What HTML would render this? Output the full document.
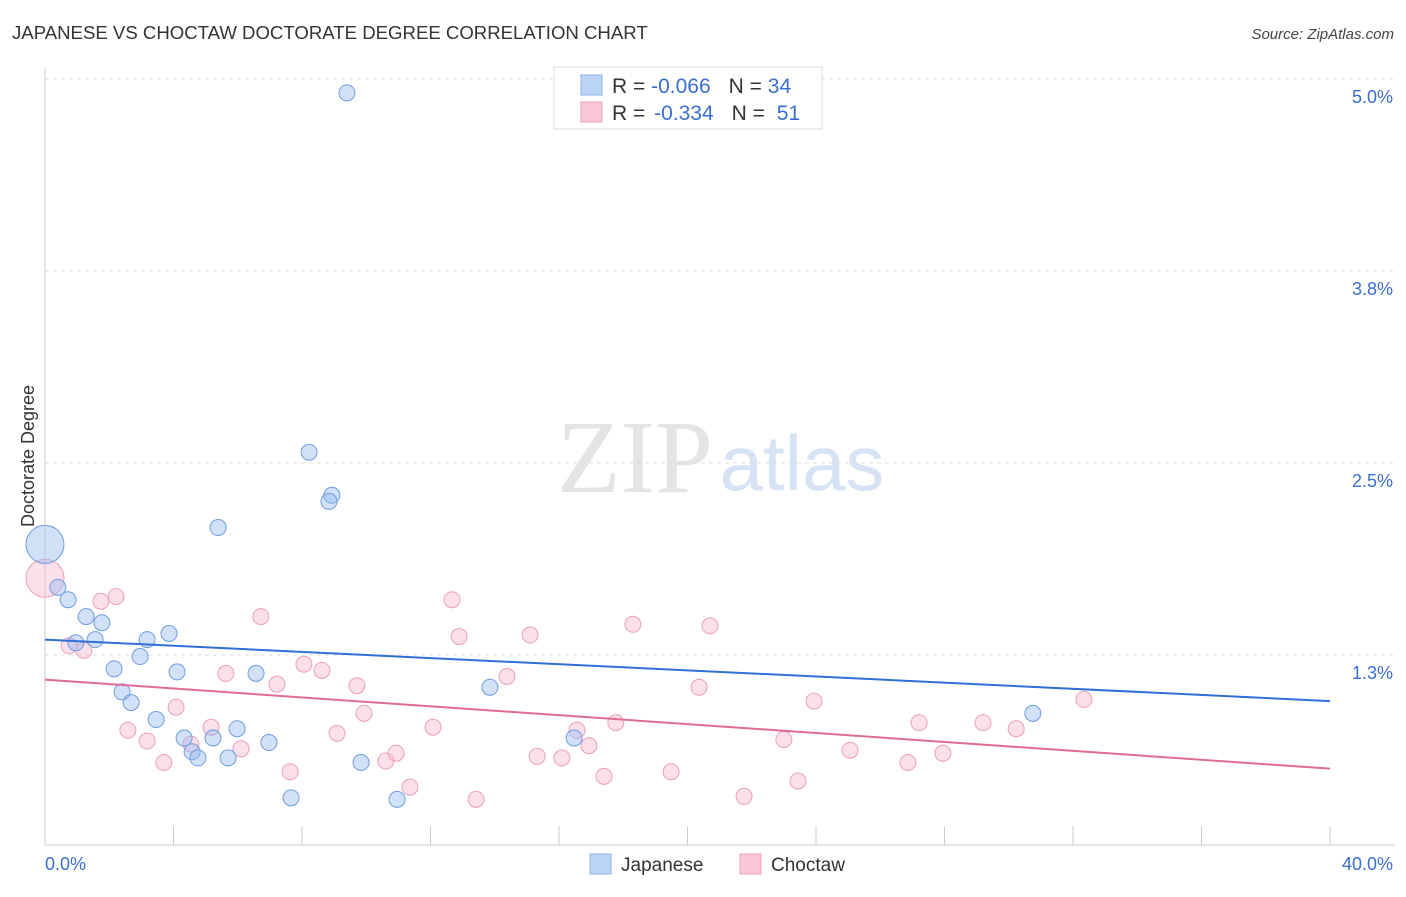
<!DOCTYPE html>
<html><head><meta charset="utf-8">
<style>
body{margin:0;background:#fff;font-family:"Liberation Sans",sans-serif;}
svg text{font-family:"Liberation Sans",sans-serif;}
</style></head>
<body>
<svg id="chart" width="1406" height="892" xmlns="http://www.w3.org/2000/svg">
<text x="12" y="39" font-size="18.6" fill="#333">JAPANESE VS CHOCTAW DOCTORATE DEGREE CORRELATION CHART</text>
<text x="1394" y="39" font-size="15" fill="#444" text-anchor="end" font-style="italic">Source: ZipAtlas.com</text>
<g>
<text x="635" y="492" font-size="104" fill="#e4e4e4" text-anchor="middle" style="font-family:'Liberation Serif',serif">ZIP</text>
<text x="802" y="490" font-size="78" fill="#d6e3f5" text-anchor="middle">atlas</text>
</g>
<g id="grid"></g>
<g id="axes"></g>
<g id="marks"></g>
<text transform="translate(34,456) rotate(-90)" font-size="18" fill="#333" text-anchor="middle">Doctorate Degree</text>
<g>
<rect x="554" y="67" width="268" height="62" fill="#fff" stroke="#ddd"/>
<rect x="581" y="75" width="21" height="20" fill="#bcd4f5" stroke="#8ab0e8"/>
<rect x="581" y="102" width="21" height="20" fill="#f9c8d8" stroke="#ee9fb9"/>
<text x="612" y="93" font-size="21" fill="#333">R = <tspan fill="#3a6fd0">-0.066</tspan><tspan dx="18">N = </tspan><tspan fill="#3a6fd0">34</tspan></text>
<text x="612" y="120" font-size="21" fill="#333">R = <tspan fill="#3a6fd0" dx="3">-0.334</tspan><tspan dx="18">N = </tspan><tspan fill="#3a6fd0" dx="6">51</tspan></text>
</g>
<g>
<rect x="590" y="854" width="21" height="20" fill="#bcd4f5" stroke="#8ab0e8"/>
<text x="621" y="871" font-size="19" fill="#333">Japanese</text>
<rect x="740" y="854" width="21" height="20" fill="#f9c8d8" stroke="#ee9fb9"/>
<text x="771" y="871" font-size="19" fill="#333">Choctaw</text>
</g>
</svg>
<script>
const jpX=[9.40,8.22,8.93,8.84,5.39,0,0.40,0.72,1.28,1.77,1.56,0.96,3.18,3.86,2.96,2.15,4.11,6.57,2.40,2.68,13.85,3.46,5.98,4.33,5.23,4.58,4.76,5.70,6.97,9.84,7.66,10.96,16.47,30.75];
const jpY=[4.91,2.57,2.29,2.25,2.08,1.97,1.69,1.61,1.50,1.46,1.35,1.33,1.35,1.39,1.24,1.16,1.14,1.13,1.01,0.94,1.04,0.83,0.77,0.71,0.71,0.62,0.58,0.58,0.68,0.55,0.32,0.31,0.71,0.87];
const chX=[2.21,1.74,6.72,12.67,0.75,1.21,12.89,15.10,18.30,20.70,8.06,8.62,5.63,7.22,9.71,14.38,20.36,4.08,9.93,23.94,32.34,2.58,3.18,5.17,9.09,12.08,16.56,17.77,27.21,29.20,30.23,4.54,6.10,16.93,23.00,25.06,27.95,3.70,10.61,10.93,15.32,16.09,7.63,17.40,19.49,26.86,11.36,13.42,21.76,23.44,0];
const chY=[1.63,1.60,1.50,1.61,1.31,1.28,1.37,1.38,1.45,1.44,1.19,1.15,1.13,1.06,1.05,1.11,1.04,0.91,0.87,0.95,0.96,0.76,0.69,0.78,0.74,0.78,0.76,0.81,0.81,0.81,0.77,0.67,0.64,0.66,0.70,0.63,0.61,0.55,0.56,0.61,0.59,0.58,0.49,0.46,0.49,0.55,0.39,0.31,0.33,0.43,1.75];
const jpTrend=[1.35,0.95];
const chTrend=[1.09,0.51];
const yTicks=[1.25,2.5,3.75,5.0];
const yTickLabels=["1.3%","2.5%","3.8%","5.0%"];
const xTicks=[0,4,8,12,16,20,24,28,32,36,40];
const NS="http://www.w3.org/2000/svg";
const sx=v=>45+v/40*1285;
const sy=v=>847-v*153.6;
function mk(tag,attrs,parent){const e=document.createElementNS(NS,tag);for(const k in attrs)e.setAttribute(k,attrs[k]);parent.appendChild(e);return e;}
const grid=document.getElementById('grid'),axes=document.getElementById('axes'),marks=document.getElementById('marks');
yTicks.forEach((t,i)=>{
 const l=mk('line',{x1:45,x2:1395,y1:sy(t),y2:sy(t),stroke:'#ddd','stroke-dasharray':'4,4'},grid);
 
 
 const tx=mk('text',{x:1393,y:sy(t)+24,'font-size':18,fill:'#3a6fd0','text-anchor':'end'},axes);
 tx.textContent=yTickLabels[i];
 
 
});
const la=mk('line',{x1:45,x2:45,y1:67,y2:845,stroke:'#ccc'},axes);


const ba=mk('line',{x1:45,x2:1395,y1:845,y2:845,stroke:'#ccc'},axes);


xTicks.forEach(t=>{
 const l=mk('line',{x1:sx(t),x2:sx(t),y1:826,y2:845,stroke:'#ccc'},axes);
 
 
});
const xl=mk('text',{x:45,y:870,'font-size':18,fill:'#3a6fd0'},axes);xl.textContent='0.0%';


const xr=mk('text',{x:1393,y:870,'font-size':18,fill:'#3a6fd0','text-anchor':'end'},axes);xr.textContent='40.0%';


function pts(X,Y,fill,stroke,name,bigIdx){
 X.forEach((x,i)=>{
  const c=mk('circle',{cx:sx(x),cy:sy(Y[i]),r:i===bigIdx?19:8,fill:fill,stroke:stroke,'stroke-width':1},marks);
  
  
 });
}
pts(chX,chY,'rgba(246,175,200,0.4)','#eba0bb','choctaw-point',50);
pts(jpX,jpY,'rgba(150,188,240,0.45)','#6e9de0','japanese-point',5);
const t1=mk('line',{x1:sx(0),x2:sx(40),y1:sy(jpTrend[0]),y2:sy(jpTrend[1]),stroke:'#2f6fd6','stroke-width':2},marks);


const t2=mk('line',{x1:sx(0),x2:sx(40),y1:sy(chTrend[0]),y2:sy(chTrend[1]),stroke:'#e06b96','stroke-width':2},marks);


</script>
</body></html>
